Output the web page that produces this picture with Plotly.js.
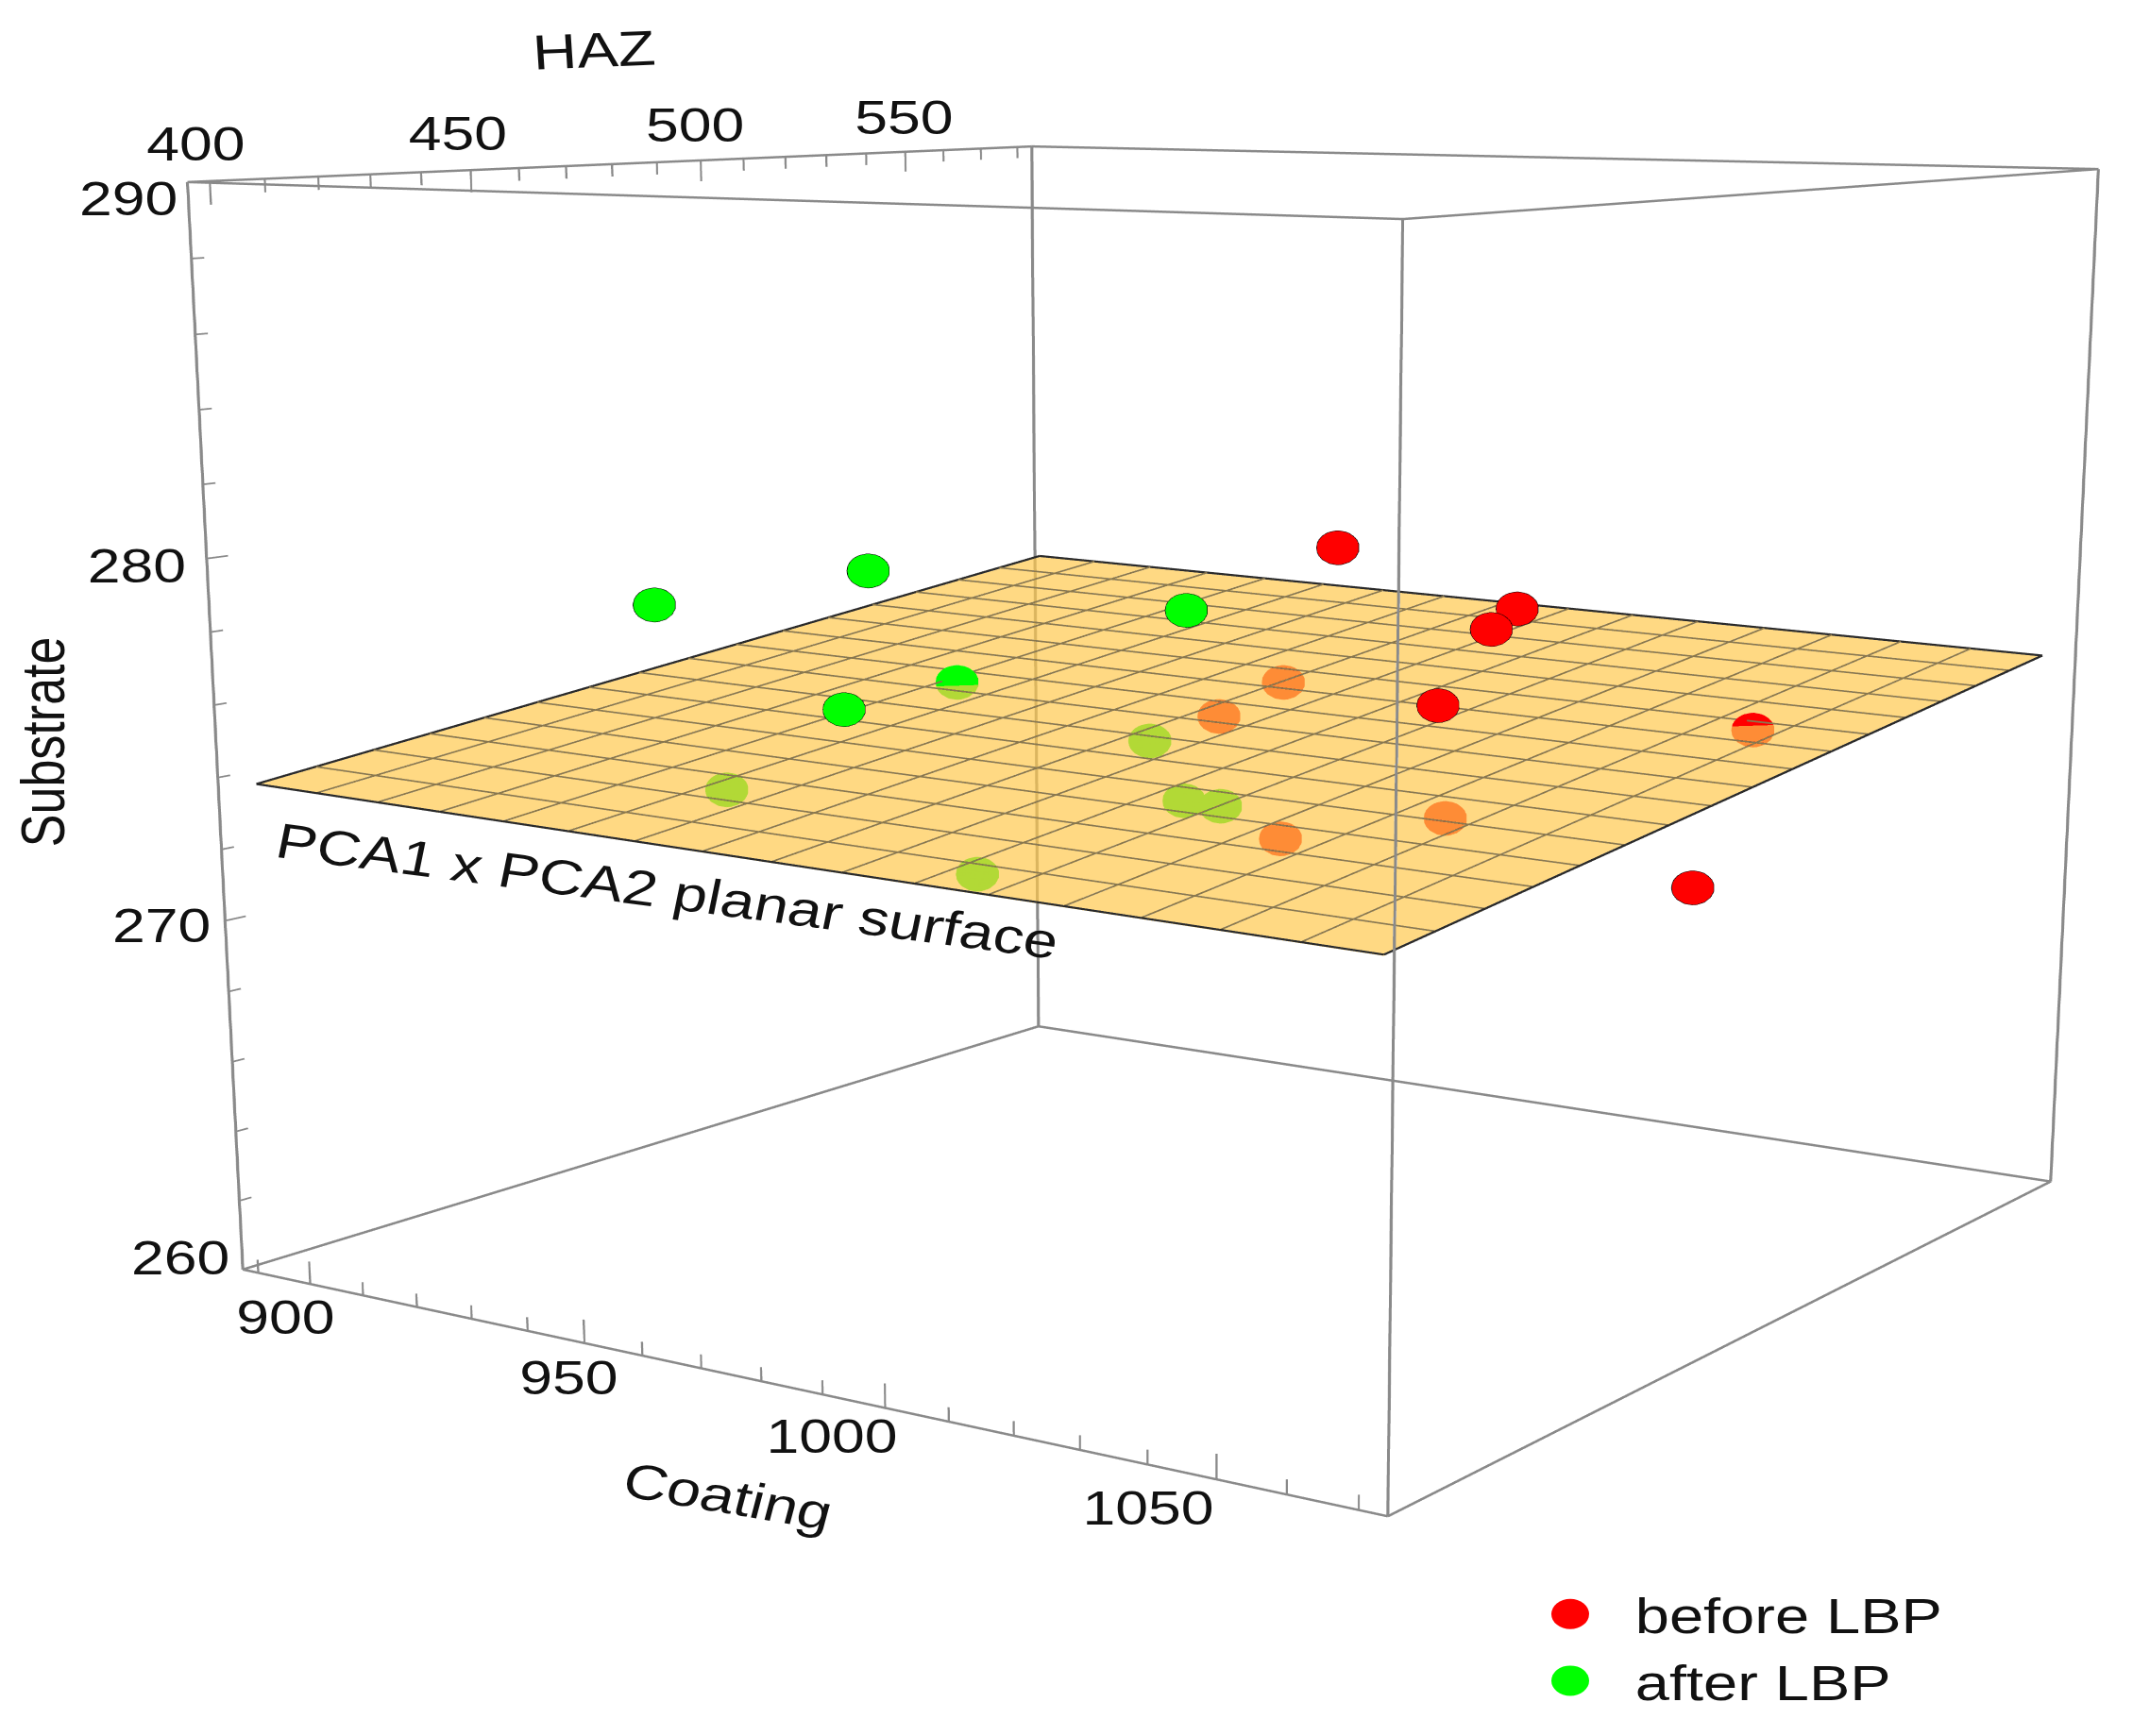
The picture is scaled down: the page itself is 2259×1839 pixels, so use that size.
<!DOCTYPE html>
<html><head><meta charset="utf-8">
<script src="https://cdn.plot.ly/plotly-3.0.1.min.js"></script>
<style>html,body{margin:0;padding:0;background:#fff;overflow:hidden;width:2259px;height:1839px}
#g{position:absolute}</style></head><body><div id="g"></div>
<script>
// Series: Coating, HAZ, Substrate
var beforeCoating=[1050.2,1055.5,1064.4,1048.2,1016.2,1052.7,956.9,959.0,1003.9,985.9];
var beforeHAZ=[420.9,454.1,432.7,447.6,577.1,524.1,553.0,532.0,523.7,507.8];
var beforeSubstrate=[282,279.9,280,277.5,268,274.97,274,273.5,271.5,271];
var beforeUnderPlane=[0,0,0,0,0,1,1,1,1,1];
var afterCoating=[942.3,967.9,1003.3,989.6,937.3,912.1,966.4,954.9,972.5,979.4];
var afterHAZ=[422.8,436.0,458.1,403.2,495.4,472.6,461.1,519.6,502.8,502.0];
var afterSubstrate=[279,280,279,277.5,275.07,272,271,273,272,272];
var afterUnderPlane=[0,0,0,0,1,1,1,1,1,1];
// Plane corners
var planeX=[890.6,1070.4],planeY=[399.6,580.4],planeZ=[[273.76,273.26],[276.47,275.98]];
var planeCells=16;
// Axes
var xR=[887,1074],yR=[396,584],zR=[260,290];
var coatingTicks=[890,900,910,920,930,940,950,960,970,980,990,1000,1010,1020,1030,1040,1050,1060,1070];
var hazTicks=[400,410,420,430,440,450,460,470,480,490,500,510,520,530,540,550,560,570,580];
var subTicks=[262,264,266,268,270,272,274,276,278,280,282,284,286,288,290];

var stretch=1.25, VH=3215, VW=2000, cx=1249, cy=756;
var eye={x:1.9,y:-2.77,z:0.65}, aspectZ=1.0;
var el=document.getElementById('g');
el.style.width=VW+'px';el.style.height=VH+'px';
el.style.left=(cx-VW/2)+'px';el.style.top=(cy-VH/2)+'px';
el.style.transform='scaleX('+stretch+')';el.style.transformOrigin='50% 50%';
var xP=[xR[0]-0.3,xR[1]+0.3],yP=[yR[0]-0.3,yR[1]+0.3],zP=[zR[0]-0.05,zR[1]+0.05];

function seg(A,a,b){A[0].push(a[0],b[0],null);A[1].push(a[1],b[1],null);A[2].push(a[2],b[2],null);}
var box=[[],[],[]];
xR.forEach(function(x){yR.forEach(function(y){seg(box,[x,y,zR[0]],[x,y,zR[1]]);});});
zR.forEach(function(z){
 yR.forEach(function(y){seg(box,[xR[0],y,z],[xR[1],y,z]);});
 xR.forEach(function(x){seg(box,[x,yR[0],z],[x,yR[1],z]);});
});
var tk=[[],[],[]];
coatingTicks.forEach(function(v){seg(tk,[v,yR[0],zR[0]],[v,yR[0],zR[0]+(v%50==0?0.65:0.38)]);});
hazTicks.forEach(function(v){seg(tk,[xR[0],v,zR[1]],[xR[0],v,zR[1]-(v%50==0?0.62:0.36)]);});
subTicks.forEach(function(v){seg(tk,[xR[0],yR[0],v],[xR[0],yR[0]+(v%10==0?3.9:2.3),v]);});
var eO=0.03,N=planeCells;
function pz(i,j){var s=i/N,t=j/N;return (1-t)*((1-s)*planeZ[0][0]+s*planeZ[0][1])+t*((1-s)*planeZ[1][0]+s*planeZ[1][1])+eO;}
function px(i){return planeX[0]+i/N*(planeX[1]-planeX[0]);}
function py(j){return planeY[0]+j/N*(planeY[1]-planeY[0]);}
var gr=[[],[],[]],bdr=[[],[],[]];
for(var i=0;i<=N;i++){var t=(i==0||i==N)?bdr:gr;
 seg(t,[px(i),py(0),pz(i,0)],[px(i),py(N),pz(i,N)]);
 seg(t,[px(0),py(i),pz(0,i)],[px(N),py(i),pz(N,i)]);}
var rLine=beforeUnderPlane.map(function(u){return u?'#ff0000':'#000000'});
var gLine=afterUnderPlane.map(function(u){return u?'#00ff00':'#000000'});
var traces=[
 {type:'scatter3d',mode:'lines',x:box[0],y:box[1],z:box[2],line:{color:'#8a8a8a',width:5},showlegend:false,hoverinfo:'skip'},
 {type:'scatter3d',mode:'lines',x:tk[0],y:tk[1],z:tk[2],line:{color:'#8a8a8a',width:3.5},showlegend:false,hoverinfo:'skip'},
 {type:'surface',x:planeX,y:planeY,z:planeZ,showscale:false,opacity:0.7,
  colorscale:[[0,'rgb(254,200,77)'],[1,'rgb(254,200,77)']],
  lighting:{ambient:1,diffuse:0,specular:0,fresnel:0,roughness:1},hoverinfo:'skip'},
 {type:'scatter3d',mode:'lines',x:gr[0],y:gr[1],z:gr[2],line:{color:'#8a784e',width:3.5},showlegend:false,hoverinfo:'skip'},
 {type:'scatter3d',mode:'lines',x:bdr[0],y:bdr[1],z:bdr[2],line:{color:'#2a2a2a',width:4.5},showlegend:false,hoverinfo:'skip'},
 {type:'scatter3d',mode:'markers',name:'before LBP',x:beforeCoating,y:beforeHAZ,z:beforeSubstrate,
  marker:{color:'#ff0000',size:21,line:{color:rLine,width:20}},showlegend:true},
 {type:'scatter3d',mode:'markers',name:'after LBP',x:afterCoating,y:afterHAZ,z:afterSubstrate,
  marker:{color:'#00ff00',size:21,line:{color:gLine,width:20}},showlegend:true}
];
var fs=50,ann=[];
function a(x,y,z,t,dx,dy,ang,sz){ann.push({x:x,y:y,z:z,text:t,showarrow:false,xanchor:'center',yanchor:'middle',xshift:dx,yshift:-dy,textangle:ang||0,font:{family:'Liberation Sans, Arial, sans-serif',size:sz||fs,color:'#111'}});}
a(900,396,260,'900',-21,36);a(950,396,260,'950',-13,37);a(1000,396,260,'1000',-45,31);a(1050,396,260,'1050',-58,31);
a(985,396,260,'Coating',-54,115,12,52);
a(887,400,290,'400',-12,-39);a(887,450,290,'450',-11,-38);a(887,500,290,'500',-5,-37);a(887,550,290,'550',-1,-36);
a(887,477,290,'HAZ',-4,-122,-3,52);
a(887,396,290,'290',-50,18);a(887,396,280,'280',-59,8);a(887,396,270,'270',-54,6);a(887,396,260,'260',-53,-12);
a(887,396,275,'Substrate',-146,0,-90,52);
a(960,399.6,273.2,'PCA1 x PCA2 planar surface',18,35,9.3,52);
var legX=VW/2+(1663-cx)/stretch-55, legTop=1704-35-(cy-VH/2);
var layout={width:VW,height:VH,margin:{l:0,r:0,t:0,b:0},paper_bgcolor:'rgba(0,0,0,0)',showlegend:true,
 legend:{x:legX/VW,xanchor:'left',y:1-legTop/VH,yanchor:'top',itemwidth:100,font:{family:'Liberation Sans, Arial, sans-serif',size:52,color:'#111'},bgcolor:'rgba(0,0,0,0)',borderwidth:0,itemclick:false},
 scene:{domain:{x:[0,1],y:[0,1]},aspectmode:'manual',aspectratio:{x:1,y:1,z:aspectZ},annotations:ann,
 camera:{eye:eye,center:{x:0,y:0,z:0},up:{x:0,y:0,z:1},projection:{type:'perspective'}},
 xaxis:{visible:false,range:xP},yaxis:{visible:false,range:yP},zaxis:{visible:false,range:zP}}};
Plotly.newPlot(el,traces,layout,{displayModeBar:false,responsive:false}).then(function(){
 el.querySelectorAll('.legendpoints path').forEach(function(p){p.style.stroke='none';p.style.strokeWidth='0';p.setAttribute('transform',(p.getAttribute('transform')||'')+' scale(2)');});
});
</script></body></html>
